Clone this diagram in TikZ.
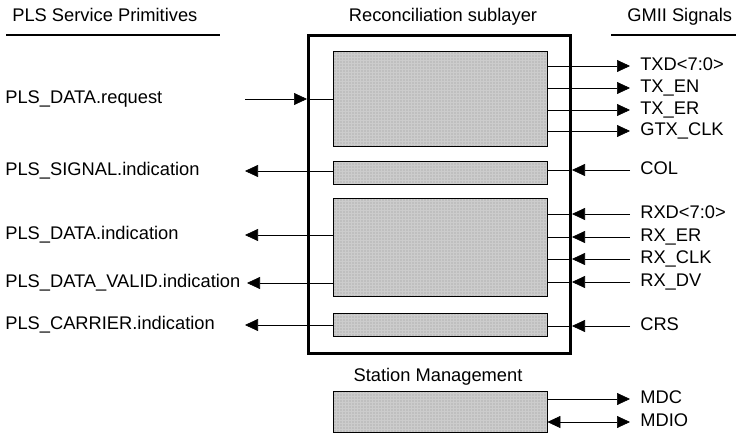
\documentclass[tikz,border=0pt]{standalone}
\usepackage{fontspec}
\setmainfont{Liberation Sans}
\usetikzlibrary{arrows.meta,positioning,patterns}

\begin{document}
\begin{tikzpicture}[x=1pt,y=-1pt,>={Triangle[length=13pt,width=12pt]},semithick,
  font=\fontsize{18.3}{20}\selectfont,
  blk/.style={draw,thin,preaction={fill=black!25},pattern=grid,pattern color=white!80!black,
    anchor=north west,minimum width=214pt},
  sig/.style={inner sep=0pt,anchor=west,text height=13pt,text depth=4pt},
  hdr/.style={inner sep=0pt,text height=13pt,text depth=4pt}]
 \useasboundingbox (0,0) rectangle (747,447);

 % headers
 \node[hdr,anchor=west] (pls) at (12,17) {PLS Service Primitives};
 \node[hdr] (rsl) at (443,17) {Reconciliation sublayer};
 \node[hdr,anchor=west] (gmii) at (627,17) {GMII Signals};
 \draw[line width=2pt] (6,35) -- (220,35);
 \draw[line width=2pt] (611,35) -- (736,35);

 % reconciliation sublayer and its blocks
 \node[draw,line width=3pt,anchor=north west,minimum width=262pt,minimum height=318pt] (rs) at (307,34) {};
 \node[blk,minimum height=95pt] (tx)  at (333,51)  {};
 \node[blk,minimum height=23pt] (col) at (333,161) {};
 \node[blk,minimum height=98pt] (rx)  at (333,198) {};
 \node[blk,minimum height=23pt] (crs) at (333,313) {};
 \node[blk,minimum height=41pt] (sm)  at (333,391) {};
 \node[hdr] (smt) at (438,377) {Station Management};

 % PLS side
 \node[sig] (req)   at (5,99)  {PLS\_DATA.request};
 \node[sig] (sgn)   at (5,171) {PLS\_SIGNAL.indication};
 \node[sig] (ind)   at (5,235) {PLS\_DATA.indication};
 \node[sig] (valid) at (5,283) {PLS\_DATA\_VALID.indication};
 \node[sig] (car)   at (5,325) {PLS\_CARRIER.indication};
 \coordinate (lft) at (245,0);
 \coordinate (lftv) at (247,0);

 % GMII side
 \node[sig] (txd)  at (640,66)  {TXD<7:0>};
 \node[sig] (txen) at (640,88)  {TX\_EN};
 \node[sig] (txer) at (640,110) {TX\_ER};
 \node[sig] (gtx)  at (640,131) {GTX\_CLK};
 \node[sig] (cl)   at (640,170) {COL};
 \node[sig] (rxd)  at (640,214) {RXD<7:0>};
 \node[sig] (rxer) at (640,237) {RX\_ER};
 \node[sig] (rxck) at (640,259) {RX\_CLK};
 \node[sig] (rxdv) at (640,282) {RX\_DV};
 \node[sig] (cs)   at (640,326) {CRS};
 \node[sig] (mdc)  at (640,399) {MDC};
 \node[sig] (mdio) at (640,422) {MDIO};

 \draw[->] (lft |- req) -- (rs.west |- req);
 \draw (rs.west |- req) -- (tx.west |- req);
 \draw[->] (col.west |- sgn) -- (lft |- sgn);
 \draw[->] (rx.west |- ind) -- (lft |- ind);
 \draw[->] (rx.west |- valid) -- (lftv |- valid);
 \draw[->] (crs.west |- car) -- (lft |- car);

 \foreach \s in {txd,txen,txer,gtx}
  \draw[->,shorten >=10pt] (tx.east |- \s.west) -- (\s.west);
 \draw[->,shorten <=10pt] (cl.west) -- (rs.east |- cl.west);
 \draw (rs.east |- cl.west) -- (col.east |- cl.west);
 \foreach \s in {rxd,rxer,rxck,rxdv}{
  \draw[->,shorten <=10pt] (\s.west) -- (rs.east |- \s.west);
  \draw (rs.east |- \s.west) -- (rx.east |- \s.west);
 }
 \draw[->,shorten <=10pt] (cs.west) -- (rs.east |- cs.west);
 \draw (rs.east |- cs.west) -- (crs.east |- cs.west);
 \draw[->,shorten >=10pt] (sm.east |- mdc.west) -- (mdc.west);
 \draw[<->,shorten >=10pt] (sm.east |- mdio.west) -- (mdio.west);
\end{tikzpicture}
\end{document}
